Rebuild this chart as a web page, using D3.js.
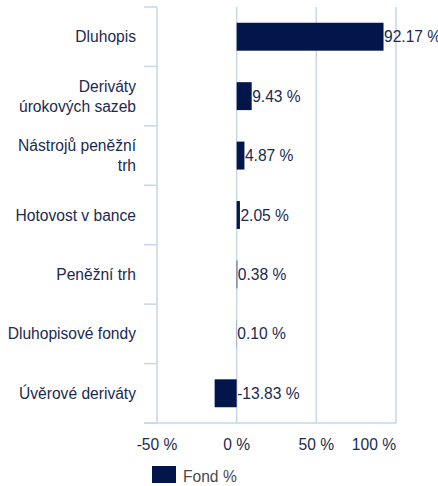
<!DOCTYPE html>
<html lang="cs">
<head>
    <meta charset="UTF-8">
    <title>Fond %</title>
    <script src="https://d3js.org/d3.v7.min.js"></script>
    <style>
        body { margin: 0; background: #fff; }
        text { font-family: "Liberation Sans", Arial, sans-serif; font-size: 15.6px; }
        .cat { fill: #1b2a4e; }
        .val { fill: #1b2a4e; }
        .tick-label { fill: #1b2a4e; }
        .grid { stroke: #c9d5e8; stroke-width: 1.5px; }
    </style>
</head>
<body>
<script>
    // Data
    const categories = [
        "Dluhopis",
        "Deriváty úrokových sazeb",
        "Nástrojů peněžní trh",
        "Hotovost v bance",
        "Peněžní trh",
        "Dluhopisové fondy",
        "Úvěrové deriváty"
    ];
    const values = [92.17, 9.43, 4.87, 2.05, 0.38, 0.10, -13.83];
    const xTicks = [-50, 0, 50, 100];
    const seriesName = "Fond %";

    const width = 438, height = 486;
    const plotLeft = 157, plotRight = 396, plotTop = 7, plotBottom = 423;

    const svg = d3.select("body")
        .append("svg")
        .attr("width", width)
        .attr("height", height);

    const x = d3.scaleLinear().domain([-50, 100]).range([plotLeft, plotRight]);
    const y = d3.scaleBand()
        .domain(categories)
        .range([plotTop, plotBottom])
        .paddingInner(0.53)
        .paddingOuter(0.265);

    // Vertical gridlines
    svg.append("g")
        .selectAll("line")
        .data(xTicks)
        .join("line")
        .attr("class", "grid")
        .attr("x1", d => x(d))
        .attr("x2", d => x(d))
        .attr("y1", plotTop)
        .attr("y2", plotBottom);

    // Category axis ticks (band boundaries)
    const step = y.step();
    svg.append("g")
        .selectAll("line")
        .data(d3.range(categories.length + 1))
        .join("line")
        .attr("class", "grid")
        .attr("x1", plotLeft - 13)
        .attr("x2", plotLeft)
        .attr("y1", i => plotTop + i * step)
        .attr("y2", i => plotTop + i * step);

    // Bottom axis line
    svg.append("line")
        .attr("class", "grid")
        .attr("x1", plotLeft - 13)
        .attr("x2", plotRight)
        .attr("y1", plotBottom)
        .attr("y2", plotBottom);

    // X tick labels
    svg.append("g")
        .selectAll("text")
        .data(xTicks)
        .join("text")
        .attr("class", "tick-label")
        .attr("x", d => x(d))
        .attr("y", 450)
        .attr("text-anchor", (d, i) => i === xTicks.length - 1 ? "end" : "middle")
        .text(d => d + " %");

    // Bars
    svg.append("g")
        .selectAll("rect")
        .data(values)
        .join("rect")
        .attr("x", d => x(Math.min(0, d)))
        .attr("y", (d, i) => y(categories[i]))
        .attr("width", d => Math.abs(x(d) - x(0)))
        .attr("height", y.bandwidth())
        .attr("fill", "#03164b");

    // Value labels
    svg.append("g")
        .selectAll("text")
        .data(values)
        .join("text")
        .attr("class", "val")
        .attr("x", d => x(Math.max(0, d)) + 0.5)
        .attr("y", (d, i) => y(categories[i]) + y.bandwidth() / 2 + 5.6)
        .text(d => d.toFixed(2) + " %");

    // Category labels with wrapping
    const maxW = 131;
    const catG = svg.append("g");
    categories.forEach(cat => {
        const t = catG.append("text")
            .attr("class", "cat")
            .attr("text-anchor", "end")
            .attr("x", plotLeft - 21);
        const words = cat.split(" ");
        const lines = [];
        let line = [];
        words.forEach(w => {
            line.push(w);
            t.text(line.join(" "));
            if (t.node().getComputedTextLength() > maxW && line.length > 1) {
                line.pop();
                lines.push(line.join(" "));
                line = [w];
            }
        });
        lines.push(line.join(" "));
        t.text(null);
        const cy = y(cat) + y.bandwidth() / 2;
        const lh = 20;
        const y0 = cy + 5.6 - (lines.length - 1) * lh / 2;
        lines.forEach((l, i) => {
            t.append("tspan")
                .attr("x", plotLeft - 21)
                .attr("y", y0 + i * lh)
                .text(l);
        });
    });

    // Legend
    const legend = svg.append("g");
    legend.append("rect")
        .attr("x", 152)
        .attr("y", 466)
        .attr("width", 24)
        .attr("height", 17)
        .attr("fill", "#03164b");
    legend.append("text")
        .attr("x", 183)
        .attr("y", 482)
        .attr("fill", "#4a4a4a")
        .text(seriesName);
</script>
</body>
</html>
